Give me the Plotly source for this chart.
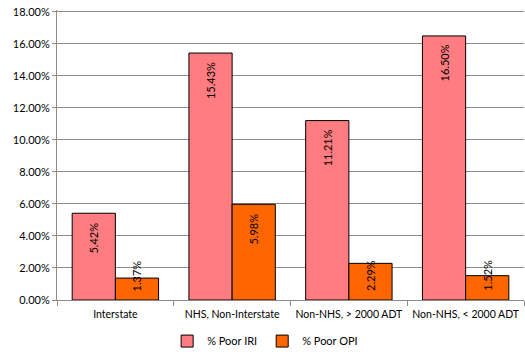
import plotly.graph_objects as go

categories = ["Interstate", "NHS, Non-Interstate", "Non-NHS, > 2000 ADT", "Non-NHS, < 2000 ADT"]
poor_iri = [5.42, 15.43, 11.21, 16.50]
poor_opi = [1.37, 5.98, 2.29, 1.52]
series_names = ["% Poor IRI", "% Poor OPI"]
y_ticks = [0, 2, 4, 6, 8, 10, 12, 14, 16, 18]

FONT = "Lato, 'Liberation Sans', sans-serif"
colors = ["#FF7C80", "#FF6600"]

fig = go.Figure()
for name, vals, col in zip(series_names, [poor_iri, poor_opi], colors):
    fig.add_trace(go.Bar(x=categories, y=vals, name=name,
                         marker=dict(color=col, line=dict(color="#000000", width=1))))

bargap = 0.26
bw = (1 - bargap) / 2
annotations = []
for s, vals in enumerate([poor_iri, poor_opi]):
    for i, v in enumerate(vals):
        xpos = i + (s - 0.5) * bw
        if v >= 3:
            annotations.append(dict(x=xpos, y=v, xref="x", yref="y", text=f"{v:.2f}%",
                                    textangle=-90, showarrow=False, yanchor="top",
                                    yshift=-7, font=dict(size=11, color="#000", family=FONT)))
        else:
            annotations.append(dict(x=xpos, y=0, xref="x", yref="y", text=f"{v:.2f}%",
                                    textangle=-90, showarrow=False, yanchor="bottom",
                                    yshift=7, font=dict(size=11, color="#000", family=FONT)))

fig.update_layout(
    width=525, height=352,
    margin=dict(l=57, r=1, t=10, b=52, autoexpand=False),
    paper_bgcolor="white", plot_bgcolor="white",
    barmode="group", bargap=bargap, bargroupgap=0,
    font=dict(family=FONT, size=11, color="#000"),
    showlegend=True,
    legend=dict(orientation="h", xref="container", yref="container", x=0.505, xanchor="center",
                y=0.031, yanchor="middle", font=dict(size=11, family=FONT),
                itemwidth=30, traceorder="normal"),
    annotations=annotations,
)
fig.update_xaxes(type="category", showline=True, linecolor="#8c8c8c", linewidth=1,
                 ticks="outside", tickson="boundaries", ticklen=5, tickcolor="#8c8c8c",
                 showgrid=False, tickangle=0, automargin=False, ticklabelstandoff=4,
                 tickfont=dict(size=10.5, family=FONT))
fig.update_yaxes(range=[0, 18.12], tickvals=y_ticks, ticktext=[f"{t:.2f}%" for t in y_ticks],
                 showline=True, linecolor="#8c8c8c", linewidth=1, ticks="outside",
                 ticklen=4, tickcolor="#8c8c8c", showgrid=True, gridcolor="#8c8c8c",
                 gridwidth=1, zeroline=False, automargin=False, ticklabeloverflow="allow",
                 tickfont=dict(size=11, family=FONT))

fig.write_html("out.html", config={"displayModeBar": False},
               post_script="document.body.style.margin='0';")
